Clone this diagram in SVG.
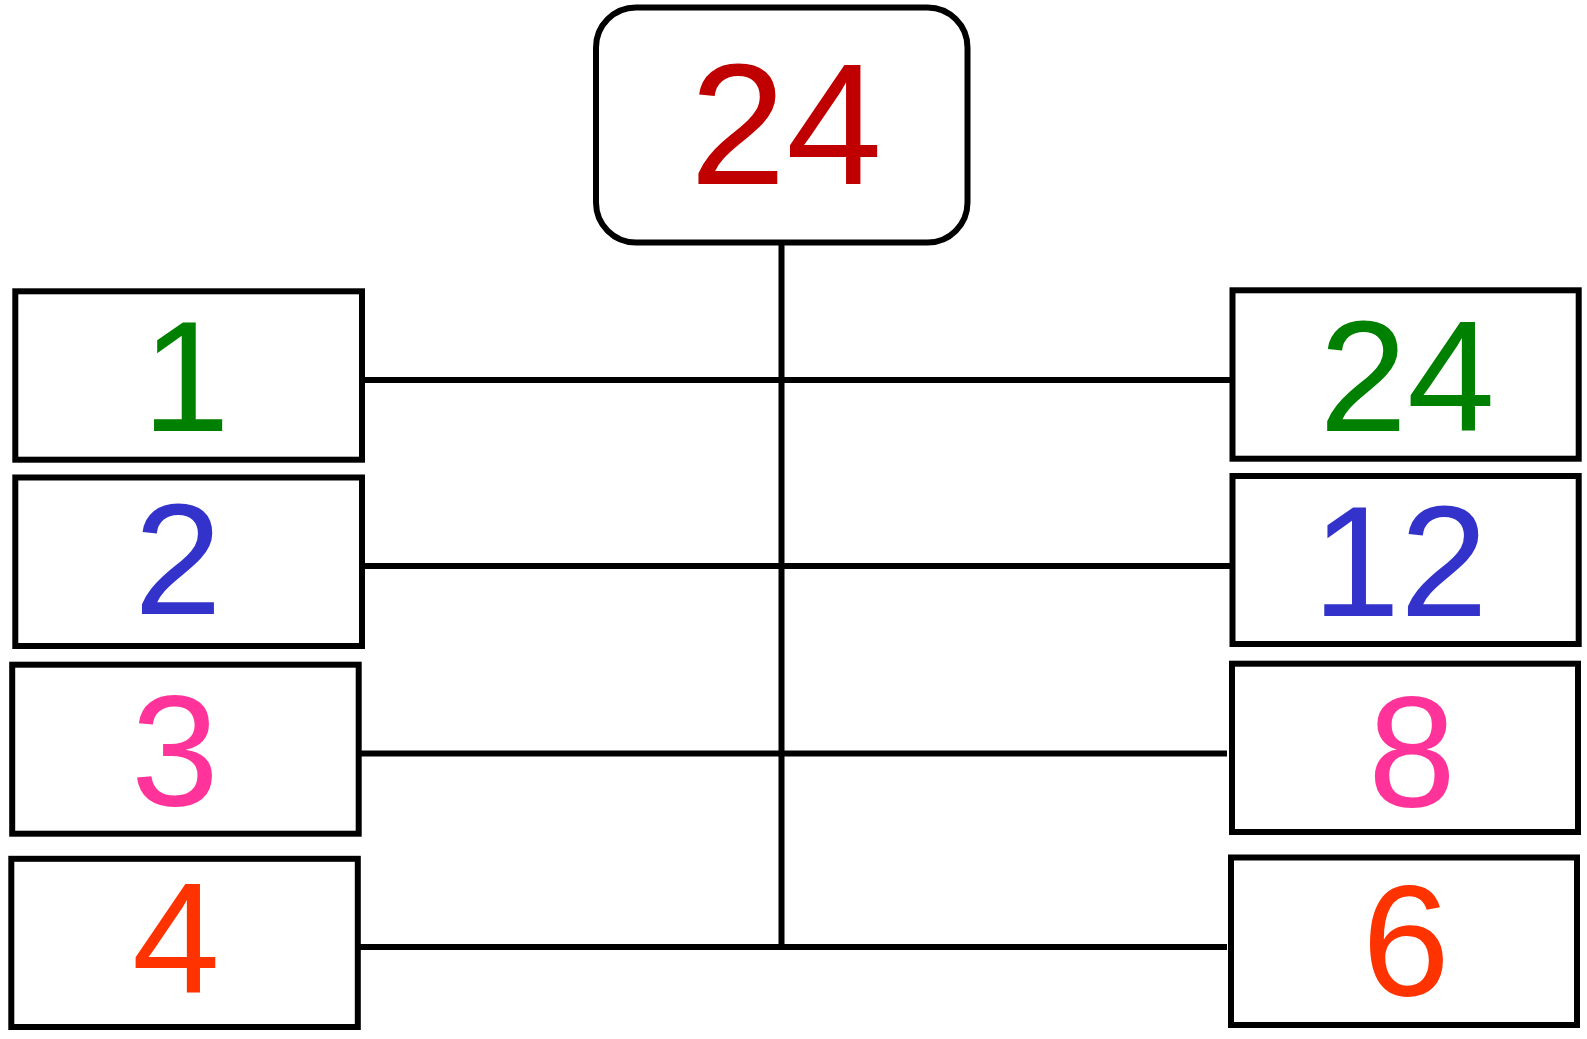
<svg xmlns="http://www.w3.org/2000/svg" width="1587" height="1039" viewBox="0 0 1587 1039">
<style>
.box{fill:#ffffff;stroke:#000000;stroke-width:6}
.ln{stroke:#000000;stroke-width:6;fill:none}
.t{font-family:"Liberation Sans",Arial,sans-serif;font-size:158px;text-anchor:middle}
</style>
<rect width="1587" height="1039" fill="#ffffff"/>
<g id="connectors">
<line class="ln" x1="781.5" y1="243" x2="781.5" y2="947"/>
<line class="ln" x1="362" y1="380" x2="1232" y2="380"/>
<line class="ln" x1="362" y1="566" x2="1232" y2="566"/>
<line class="ln" x1="358.5" y1="753.5" x2="1227" y2="753.5"/>
<line class="ln" x1="358" y1="947" x2="1227" y2="947"/>
</g>
<g id="root">
<rect class="box" x="596" y="7.5" width="371.5" height="235" rx="40" ry="40"/>
<text class="t" x="786" y="184" style="font-size:173px" fill="#C00000">24</text>
</g>
<g id="n1">
<rect class="box" x="15.3" y="291.3" width="346.7" height="168.4"/>
<text class="t" x="186" y="431" fill="#008000">1</text>
</g>
<g id="n2">
<rect class="box" x="15.3" y="477.5" width="346.7" height="168.5"/>
<text class="t" x="178" y="614" fill="#3333CC">2</text>
</g>
<g id="n3">
<rect class="box" x="12.2" y="664.7" width="346.5" height="169"/>
<text class="t" x="175" y="805" fill="#FF3399">3</text>
</g>
<g id="n4">
<rect class="box" x="11.3" y="858.8" width="346.5" height="168.2"/>
<text class="t" x="176" y="993" fill="#FF3300">4</text>
</g>
<g id="n24">
<rect class="box" x="1232.5" y="290.3" width="346.2" height="168.4"/>
<text class="t" x="1407" y="431" fill="#008000">24</text>
</g>
<g id="n12">
<rect class="box" x="1232.5" y="476" width="346.2" height="168"/>
<text class="t" x="1400" y="616" fill="#3333CC">12</text>
</g>
<g id="n8">
<rect class="box" x="1232" y="663.7" width="346" height="168.3"/>
<text class="t" x="1412" y="806" fill="#FF3399">8</text>
</g>
<g id="n6">
<rect class="box" x="1231" y="857.5" width="346" height="167.5"/>
<text class="t" x="1406" y="995" fill="#FF3300">6</text>
</g>
</svg>
